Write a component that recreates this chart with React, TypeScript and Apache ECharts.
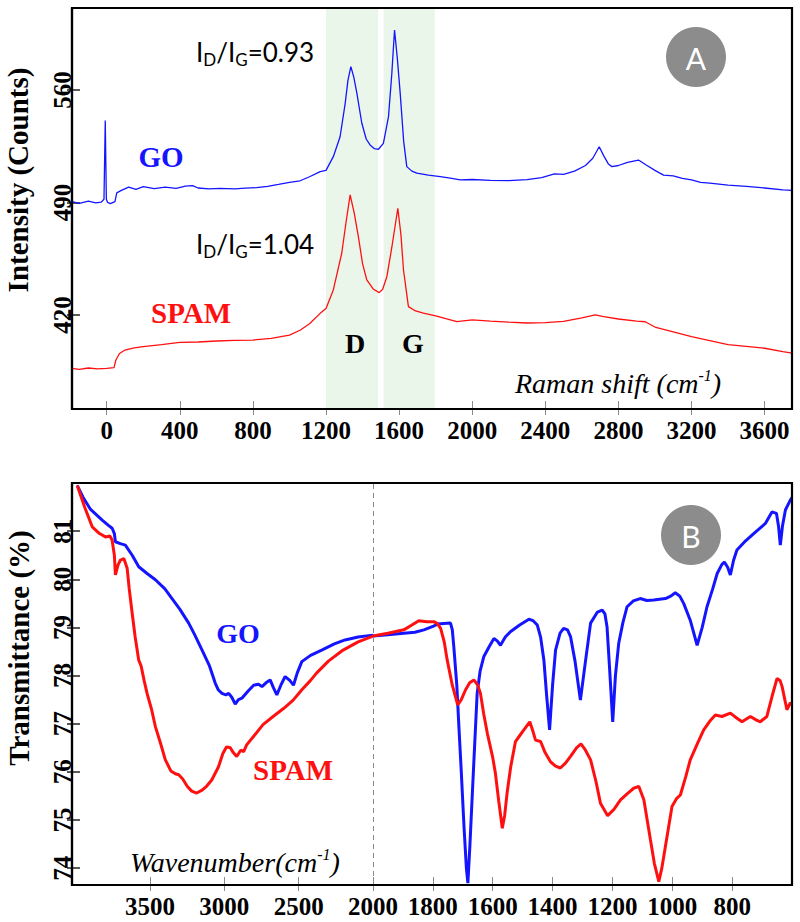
import React, { useEffect, useRef } from "react";
import * as echarts from "echarts";

// ---------- Panel A: Raman ----------
const ramanXTicks = [0, 400, 800, 1200, 1600, 2000, 2400, 2800, 3200, 3600];
const ramanYTicks = [420, 490, 560];
const ramanBands = [
  [1200, 1485],
  [1515, 1795],
];

const goRamanShift = [-190, -150, -100, -60, -30, -15, -8, -2, 5, 20, 45, 55, 80, 120, 160, 200, 260, 320, 380, 430, 470, 500, 560, 620, 700, 760, 820, 880, 940, 1000, 1058, 1110, 1168, 1200, 1240, 1277, 1305, 1320, 1336, 1352, 1369, 1396, 1420, 1441, 1465, 1487, 1514, 1542, 1560, 1575, 1590, 1606, 1625, 1642, 1670, 1697, 1760, 1825, 1880, 1934, 2000, 2100, 2200, 2300, 2380, 2450, 2500, 2560, 2620, 2660, 2695, 2720, 2745, 2765, 2800, 2850, 2910, 2950, 3000, 3047, 3100, 3150, 3200, 3250, 3300, 3400, 3500, 3600, 3700, 3750];
const goRamanCounts = [490.5, 489.5, 490.8, 489.8, 490.2, 492, 541, 492, 490, 489.3, 490.5, 496, 497.5, 499.5, 498.2, 499.8, 498.6, 499.5, 498.8, 500.2, 500.5, 499, 498.4, 498.8, 498.5, 498.9, 499.2, 500, 501.2, 502.5, 503.5, 506, 509.2, 510, 518.5, 530.9, 551.7, 566, 574.5, 568, 557.9, 539.3, 529.5, 525.8, 523.5, 523.1, 526.8, 543.4, 570, 597.3, 580, 557.9, 528, 512.3, 509.5, 508.2, 507, 506.1, 505.2, 504, 504.3, 503.8, 503.6, 504.2, 505.5, 507.8, 507.5, 509.5, 513, 517.5, 524.7, 519, 514, 512.3, 513, 515, 516.4, 513.5, 510, 507, 506.5, 505, 504, 502.5, 502, 500.8, 500, 499, 497.8, 497.5];

const spamRamanShift = [-190, -150, -100, -50, 0, 40, 50, 70, 100, 150, 200, 300, 400, 500, 600, 700, 800, 900, 1000, 1058, 1110, 1168, 1200, 1240, 1286, 1310, 1332, 1355, 1377, 1400, 1423, 1460, 1491, 1510, 1533, 1560, 1593, 1610, 1624, 1651, 1690, 1733, 1800, 1916, 2000, 2100, 2200, 2300, 2400, 2500, 2600, 2673, 2720, 2800, 2900, 2947, 3000, 3100, 3200, 3300, 3400, 3500, 3600, 3700, 3750];
const spamRamanCounts = [386.8, 386.2, 387, 386.5, 386.8, 387.2, 392, 396, 398.2, 399.5, 400.3, 401.5, 403, 403.2, 403.8, 404.2, 404.4, 405.5, 407.5, 410.5, 414.5, 421, 424, 435.6, 458.4, 478, 494.7, 483, 468.7, 452, 441.8, 436, 433.9, 436, 443.8, 462, 486.4, 470, 448, 425.2, 422.5, 421.1, 419.5, 415.9, 417, 416.2, 415.5, 415, 415.2, 416, 418.2, 420, 419, 417.5, 416.2, 415.8, 412.5, 409.5, 406.5, 404, 401.5, 400.5, 399.3, 397.2, 396.2];

// ---------- Panel B: FTIR (broken axis at 2000) ----------
const ftirHighTicks = [2000, 2500, 3000, 3500];
const ftirLowTicks = [800, 1000, 1200, 1400, 1600, 1800];
const ftirYTicks = [74, 75, 76, 77, 78, 79, 80, 81];

const goFtirHighX = [3990, 3950, 3900, 3822, 3780, 3755, 3740, 3733, 3700, 3666, 3620, 3576, 3520, 3464, 3400, 3352, 3300, 3240, 3200, 3150, 3100, 3061, 3040, 3016, 2990, 2971, 2950, 2927, 2905, 2882, 2840, 2803, 2770, 2747, 2720, 2692, 2670, 2647, 2620, 2591, 2560, 2535, 2510, 2479, 2420, 2345, 2260, 2188, 2100, 2000];
const goFtirHighT = [81.95, 81.7, 81.45, 81.23, 81.12, 81.06, 80.95, 80.78, 80.74, 80.71, 80.5, 80.26, 80.12, 79.99, 79.8, 79.6, 79.38, 79.09, 78.85, 78.53, 78.2, 77.84, 77.7, 77.63, 77.6, 77.63, 77.55, 77.41, 77.5, 77.53, 77.68, 77.8, 77.82, 77.77, 77.85, 77.91, 77.75, 77.6, 77.8, 77.98, 77.9, 77.8, 78.05, 78.29, 78.42, 78.53, 78.66, 78.74, 78.8, 78.84];

const spamFtirHighX = [3990, 3940, 3889, 3840, 3800, 3770, 3755, 3740, 3733, 3715, 3699, 3676, 3654, 3640, 3620, 3600, 3576, 3560, 3540, 3520, 3490, 3464, 3430, 3397, 3360, 3330, 3307, 3280, 3250, 3220, 3186, 3150, 3120, 3085, 3040, 3010, 2985, 2960, 2940, 2917, 2890, 2870, 2850, 2800, 2740, 2672, 2600, 2537, 2480, 2420, 2380, 2300, 2201, 2100, 2000];
const spamFtirHighT = [81.95, 81.5, 81.09, 80.95, 80.88, 80.9, 80.81, 80.5, 80.09, 80.3, 80.4, 80.43, 80.23, 79.8, 79.29, 78.8, 78.32, 78.2, 77.9, 77.63, 77.3, 76.94, 76.6, 76.25, 76.02, 75.96, 75.94, 75.85, 75.7, 75.6, 75.56, 75.62, 75.7, 75.83, 76.1, 76.38, 76.52, 76.5, 76.4, 76.32, 76.45, 76.42, 76.56, 76.75, 76.98, 77.15, 77.32, 77.49, 77.7, 77.9, 78.05, 78.3, 78.53, 78.7, 78.82];

const goFtirLowX = [2000, 1950, 1897, 1860, 1830, 1800, 1785, 1741, 1735, 1730, 1720, 1713, 1705, 1696, 1688, 1683, 1676, 1668, 1660, 1652, 1642, 1630, 1612, 1596, 1585, 1574, 1558, 1541, 1510, 1479, 1465, 1451, 1440, 1429, 1420, 1410, 1400, 1390, 1375, 1363, 1350, 1340, 1325, 1307, 1290, 1273, 1250, 1234, 1225, 1218, 1210, 1199, 1190, 1179, 1165, 1151, 1130, 1107, 1085, 1062, 1023, 1005, 990, 975, 962, 940, 917, 900, 884, 865, 850, 835, 826, 815, 806, 795, 784, 755, 728, 700, 689, 667, 652, 645, 639, 632, 622, 606, 600];
const goFtirLowT = [78.82, 78.85, 78.88, 78.9, 78.95, 79.02, 79.07, 79.09, 78.95, 78.6, 77.8, 76.94, 76.0, 74.87, 74.0, 73.69, 74.5, 75.56, 76.6, 77.63, 78.1, 78.39, 78.6, 78.77, 78.72, 78.63, 78.8, 78.91, 79.05, 79.17, 79.14, 79.05, 78.8, 78.32, 77.6, 76.87, 77.8, 78.53, 78.88, 78.98, 78.95, 78.81, 78.3, 77.49, 78.3, 79.09, 79.32, 79.36, 79.28, 79.01, 78.2, 77.04, 78.0, 78.67, 79.1, 79.43, 79.55, 79.6, 79.56, 79.57, 79.6, 79.65, 79.72, 79.65, 79.5, 79.15, 78.63, 79.0, 79.43, 79.8, 80.12, 80.3, 80.36, 80.25, 80.09, 80.4, 80.61, 80.8, 80.95, 81.1, 81.16, 81.4, 81.37, 81.1, 80.71, 81.1, 81.44, 81.64, 81.7];

const spamFtirLowX = [2000, 1950, 1897, 1870, 1847, 1820, 1797, 1785, 1774, 1762, 1752, 1735, 1717, 1705, 1691, 1677, 1663, 1650, 1641, 1630, 1618, 1600, 1591, 1580, 1568, 1560, 1552, 1540, 1524, 1510, 1496, 1476, 1466, 1457, 1440, 1425, 1407, 1390, 1374, 1357, 1340, 1320, 1305, 1290, 1273, 1255, 1240, 1216, 1195, 1173, 1150, 1129, 1112, 1095, 1073, 1060, 1045, 1035, 1023, 1001, 985, 973, 955, 940, 915, 895, 875, 856, 834, 806, 785, 767, 739, 720, 706, 684, 667, 650, 640, 633, 617, 606, 600];
const spamFtirLowT = [78.82, 78.88, 78.95, 79.05, 79.14, 79.12, 79.12, 79.08, 78.98, 78.7, 78.32, 77.8, 77.39, 77.5, 77.7, 77.85, 77.91, 77.8, 77.63, 77.2, 76.8, 76.3, 75.97, 75.4, 74.83, 75.1, 75.56, 76.1, 76.63, 76.75, 76.87, 77.04, 76.85, 76.66, 76.63, 76.4, 76.21, 76.12, 76.08, 76.18, 76.32, 76.5, 76.58, 76.45, 76.25, 75.8, 75.35, 75.09, 75.22, 75.42, 75.55, 75.66, 75.7, 75.42, 74.59, 74.1, 73.72, 74.0, 74.45, 75.28, 75.45, 75.52, 75.9, 76.25, 76.6, 76.87, 77.05, 77.18, 77.15, 77.22, 77.12, 77.04, 77.15, 77.08, 77.04, 77.15, 77.56, 77.94, 77.9, 77.77, 77.29, 77.43, 77.4];

const BLUE = "#1414ff";
const RED = "#ff1010";
const SERIF = "'Liberation Serif', 'Times New Roman', serif";
const SANS = "Lato, 'Open Sans', sans-serif";

const zip = (xs: number[], ys: number[]) => xs.map((x, i) => [x, ys[i]]);
const plain = (v: number) => String(v);

function xAxisDef(grid: number, min: number, max: number, ticks: number[], inverse: boolean) {
  return {
    type: "value",
    gridIndex: grid,
    position: "bottom",
    min,
    max,
    inverse,
    axisLine: { show: true, onZero: false, lineStyle: { color: "#000", width: 2.2 } },
    splitLine: { show: false },
    axisTick: {
      show: true,
      inside: true,
      length: 8,
      customValues: ticks,
      lineStyle: { color: "#8a8a8a", width: 1 },
    },
    axisLabel: {
      customValues: ticks,
      formatter: plain,
      margin: 9,
      fontFamily: SERIF,
      fontWeight: "bold",
      fontSize: 25,
      color: "#000",
    },
  };
}

// companion axis drawing only the outer half of each crossing tick
function xOuterTicks(grid: number, min: number, max: number, ticks: number[], inverse: boolean) {
  return {
    type: "value",
    gridIndex: grid,
    position: "bottom",
    min,
    max,
    inverse,
    axisLine: { show: false, onZero: false },
    splitLine: { show: false },
    axisTick: { show: true, inside: false, length: 6, customValues: ticks, lineStyle: { color: "#8a8a8a", width: 1 } },
    axisLabel: { show: false },
  };
}

function yAxisDef(grid: number, min: number, max: number, ticks: number[], show: boolean) {
  return {
    type: "value",
    gridIndex: grid,
    position: "left",
    min,
    max,
    show,
    axisLine: { show: true, onZero: false, lineStyle: { color: "#000", width: 2.2 } },
    splitLine: { show: false },
    axisTick: {
      show: true,
      inside: true,
      length: 8,
      customValues: ticks,
      lineStyle: { color: "#222", width: 1.5 },
    },
    axisLabel: {
      customValues: ticks,
      formatter: plain,
      rotate: 90,
      align: "center",
      verticalAlign: "bottom",
      margin: -3,
      fontFamily: SERIF,
      fontWeight: "bold",
      fontSize: 25,
      color: "#000",
    },
  };
}

function yOuterTicks(grid: number, min: number, max: number, ticks: number[]) {
  return {
    type: "value",
    gridIndex: grid,
    position: "left",
    min,
    max,
    axisLine: { show: false, onZero: false },
    splitLine: { show: false },
    axisTick: { show: true, inside: false, length: 5, customValues: ticks, lineStyle: { color: "#222", width: 1.5 } },
    axisLabel: { show: false },
  };
}

function lineSeries(name: string, data: number[][], xi: number, yi: number, color: string, width: number, extra: any = {}) {
  return {
    type: "line",
    name,
    xAxisIndex: xi,
    yAxisIndex: yi,
    data,
    symbol: "none",
    smooth: false,
    lineStyle: { color, width },
    itemStyle: { color },
    z: 3,
    ...extra,
  };
}

function label(text: string, x: number, y: number, color: string, size: number, extra: any = {}) {
  return {
    type: "text",
    x,
    y,
    z: 10,
    style: {
      text,
      fill: color,
      font: `bold ${size}px ${SERIF}`,
      textAlign: "center",
      textVerticalAlign: "middle",
      ...extra,
    },
  };
}

export default function App() {
  const ref = useRef<HTMLDivElement>(null);
  useEffect(() => {
    document.body.style.margin = "0";
    if (!ref.current) return;
    const chart = echarts.init(ref.current, undefined, { renderer: "svg" });
    const ratioRich = {
      a: { font: `26px ${SANS}`, lineHeight: 32, color: "#111" },
      s: { font: `17px ${SANS}`, lineHeight: 24, verticalAlign: "bottom", color: "#111" },
    };
    const supRich = {
      a: { font: `italic 28px ${SERIF}`, lineHeight: 32, color: "#111" },
      p: { font: `italic 16px ${SERIF}`, lineHeight: 32, verticalAlign: "top", color: "#111" },
    };
    const option: any = {
      animation: false,
      grid: [
        { left: 72, top: 8, width: 720, height: 401 },
        { left: 72, top: 483, width: 301, height: 402 },
        { left: 373, top: 483, width: 419, height: 402 },
      ],
      xAxis: [
        xAxisDef(0, -190, 3750, ramanXTicks, false),
        xAxisDef(1, 2000, 4025, ftirHighTicks, true),
        xAxisDef(2, 600, 2000, ftirLowTicks, true),
        xOuterTicks(0, -190, 3750, ramanXTicks, false),
        xOuterTicks(1, 2000, 4025, ftirHighTicks, true),
        xOuterTicks(2, 600, 2000, ftirLowTicks, true),
      ],
      yAxis: [
        yAxisDef(0, 361.5, 611, ramanYTicks, true),
        yAxisDef(1, 73.65, 82, ftirYTicks, true),
        yAxisDef(2, 73.65, 82, ftirYTicks, false),
        yOuterTicks(0, 361.5, 611, ramanYTicks),
        yOuterTicks(1, 73.65, 82, ftirYTicks),
      ],
      series: [
        lineSeries("GO", zip(goRamanShift, goRamanCounts), 0, 0, BLUE, 1.3, {
          markArea: {
            silent: true,
            itemStyle: { color: "#eaf6ea" },
            data: ramanBands.map((b) => [{ xAxis: b[0] }, { xAxis: b[1] }]),
          },
        }),
        lineSeries("SPAM", zip(spamRamanShift, spamRamanCounts), 0, 0, RED, 1.3),
        lineSeries("GO FTIR", zip(goFtirHighX, goFtirHighT), 1, 1, BLUE, 3, {
          markLine: {
            silent: true,
            symbol: "none",
            label: { show: false },
            lineStyle: { color: "#8a8a8a", type: [5, 4], width: 1 },
            data: [{ xAxis: 2000 }],
          },
        }),
        lineSeries("SPAM FTIR", zip(spamFtirHighX, spamFtirHighT), 1, 1, RED, 3),
        lineSeries("GO FTIR low", zip(goFtirLowX, goFtirLowT), 2, 2, BLUE, 3),
        lineSeries("SPAM FTIR low", zip(spamFtirLowX, spamFtirLowT), 2, 2, RED, 3),
      ],
      graphic: [
        { type: "rect", z: 20, shape: { x: 72, y: 8, width: 720, height: 401 }, style: { fill: "none", stroke: "#000", lineWidth: 2.2 } },
        { type: "rect", z: 20, shape: { x: 72, y: 483, width: 720, height: 402 }, style: { fill: "none", stroke: "#000", lineWidth: 2.2 } },
        // axis names
        label("Intensity (Counts)", 18, 180, "#000", 29, {}),
        label("Transmittance (%)", 19, 648, "#000", 29, {}),
        // Panel A annotations
        label("GO", 161, 157, BLUE, 29),
        label("SPAM", 191, 313, RED, 29),
        label("D", 355, 343, "#000", 28),
        label("G", 413, 343, "#000", 28),
        {
          type: "text", x: 196, y: 52, z: 10,
          style: { text: "{a|I}{s|D}{a|/I}{s|G}{a|=0.93}", rich: ratioRich, textVerticalAlign: "middle", textAlign: "left" },
        },
        {
          type: "text", x: 196, y: 244, z: 10,
          style: { text: "{a|I}{s|D}{a|/I}{s|G}{a|=1.04}", rich: ratioRich, textVerticalAlign: "middle", textAlign: "left" },
        },
        {
          type: "text", x: 515, y: 383, z: 10,
          style: { text: "{a|Raman shift (cm}{p|-1}{a|)}", rich: supRich, textVerticalAlign: "middle", textAlign: "left" },
        },
        { type: "circle", z: 10, shape: { cx: 696, cy: 57, r: 30 }, style: { fill: "#8c8c8c" } },
        { type: "text", z: 11, x: 696, y: 58, style: { text: "A", fill: "#fff", font: `30px ${SANS}`, textAlign: "center", textVerticalAlign: "middle" } },
        // Panel B annotations
        label("GO", 238, 633, BLUE, 28),
        label("SPAM", 293, 770, RED, 29),
        {
          type: "text", x: 130, y: 862, z: 10,
          style: { text: "{a|Wavenumber(cm}{p|-1}{a|)}", rich: supRich, textVerticalAlign: "middle", textAlign: "left" },
        },
        { type: "circle", z: 10, shape: { cx: 691, cy: 535, r: 30 }, style: { fill: "#8c8c8c" } },
        { type: "text", z: 11, x: 691, y: 536, style: { text: "B", fill: "#fff", font: `30px ${SANS}`, textAlign: "center", textVerticalAlign: "middle" } },
      ],
    };
    option.graphic[2].rotation = Math.PI / 2;
    option.graphic[3].rotation = Math.PI / 2;
    chart.setOption(option);
    return () => chart.dispose();
  }, []);
  return <div ref={ref} style={{ width: 800, height: 922 }} />;
}
